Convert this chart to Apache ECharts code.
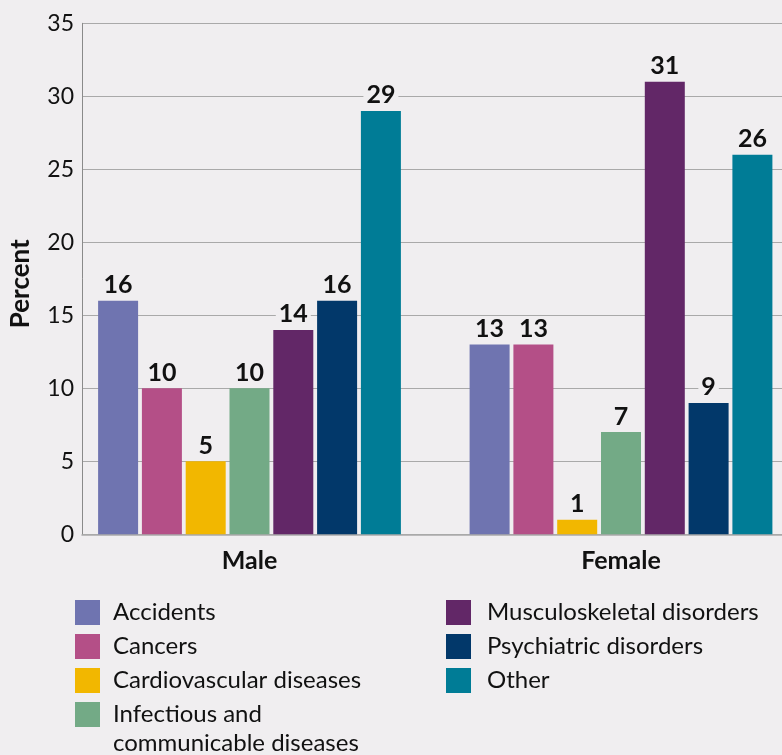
<!DOCTYPE html>
<html>
<head>
<meta charset="utf-8">
<script src="https://cdn.jsdelivr.net/npm/echarts@6/dist/echarts.min.js"></script>
<style>
html,body{margin:0;padding:0;background:#f0eef0;}
#c{width:782px;height:755px;}
</style>
</head>
<body>
<div id="c"></div>
<script>
const categories = ['Male', 'Female'];
const seriesNames = ['Accidents', 'Cancers', 'Cardiovascular diseases', 'Infectious and\ncommunicable diseases', 'Musculoskeletal disorders', 'Psychiatric disorders', 'Other'];
const accidents = [16, 13];
const cancers = [10, 13];
const cardiovascular = [5, 1];
const infectious = [10, 7];
const musculoskeletal = [14, 31];
const psychiatric = [16, 9];
const other = [29, 26];
const yTicks = [0, 5, 10, 15, 20, 25, 30, 35];

const values = [accidents, cancers, cardiovascular, infectious, musculoskeletal, psychiatric, other];
const colors = ['#6f74b0', '#b44f87', '#f2b700', '#73aa86', '#622767', '#02386a', '#007c96'];
const BG = '#f0eef0';
const FONT = 'Lato';

const chart = echarts.init(document.getElementById('c'));
const TOP = 23.3, BOTTOM = 755 - 534.3;

const legendText = {fontFamily: FONT, fontSize: 24, color: '#111', padding: [0, 0, 0, 8], lineHeight: 25};
const legendTextRight = Object.assign({}, legendText, {padding: [0, 0, 0, 11]});
const baseLegend = {orient: 'vertical', padding: 0, itemWidth: 25, itemHeight: 25, itemGap: 9, icon: 'rect', selectedMode: false};

const option = {
  backgroundColor: BG,
  animation: false,
  textStyle: {fontFamily: FONT},
  grid: [
    {left: 77.5, right: 0, top: TOP, bottom: BOTTOM},
    {left: 249.5, right: 161, top: TOP, bottom: BOTTOM}
  ],
  xAxis: [
    {gridIndex: 0, type: 'category', data: [''], axisLine: {lineStyle: {color: '#a9a9a9', width: 1.5}}, axisTick: {show: false}, axisLabel: {show: false}},
    {gridIndex: 1, type: 'category', data: categories, boundaryGap: false, axisLine: {show: false}, axisTick: {show: false},
     axisLabel: {fontFamily: FONT, fontSize: 25, fontWeight: 'bold', color: '#111', margin: 14}}
  ],
  yAxis: [
    {gridIndex: 0, type: 'value', min: yTicks[0], max: yTicks[yTicks.length - 1], interval: 5,
     name: 'Percent', nameLocation: 'middle', nameGap: 48,
     nameTextStyle: {fontFamily: FONT, fontSize: 26, fontWeight: 'bold', color: '#111', padding: [0, 10, 0, 0]},
     axisLine: {show: true, lineStyle: {color: '#8a8a8a', width: 1}},
     axisTick: {show: false},
     axisLabel: {fontFamily: FONT, fontSize: 23, color: '#111', margin: 8},
     splitLine: {lineStyle: {color: '#a9a9a9', width: 1}}},
    {gridIndex: 1, type: 'value', min: yTicks[0], max: yTicks[yTicks.length - 1], interval: 5, show: false, splitLine: {show: false}}
  ],
  legend: [
    Object.assign({}, baseLegend, {left: 75, top: 600, textStyle: legendText, data: seriesNames.slice(0, 3)}),
    Object.assign({}, baseLegend, {left: 75, top: 671, data: [seriesNames[3]],
      formatter: function (name) { return '\n' + name; },
      textStyle: Object.assign({}, legendText, {lineHeight: 29})}),
    Object.assign({}, baseLegend, {left: 446, top: 600, textStyle: legendTextRight, data: seriesNames.slice(4)})
  ],
  series: seriesNames.map((n, i) => ({
    name: n, type: 'bar', xAxisIndex: 1, yAxisIndex: 1, clip: false,
    data: values[i], barWidth: 40, barGap: '9.5%',
    itemStyle: {color: colors[i]},
    label: {show: true, position: 'top', distance: 3, fontFamily: FONT, fontSize: 25, fontWeight: 'bold', color: '#111',
            backgroundColor: BG, padding: [0, 3, 0, 3]}
  }))
};
chart.setOption(option);
</script>
</body>
</html>
